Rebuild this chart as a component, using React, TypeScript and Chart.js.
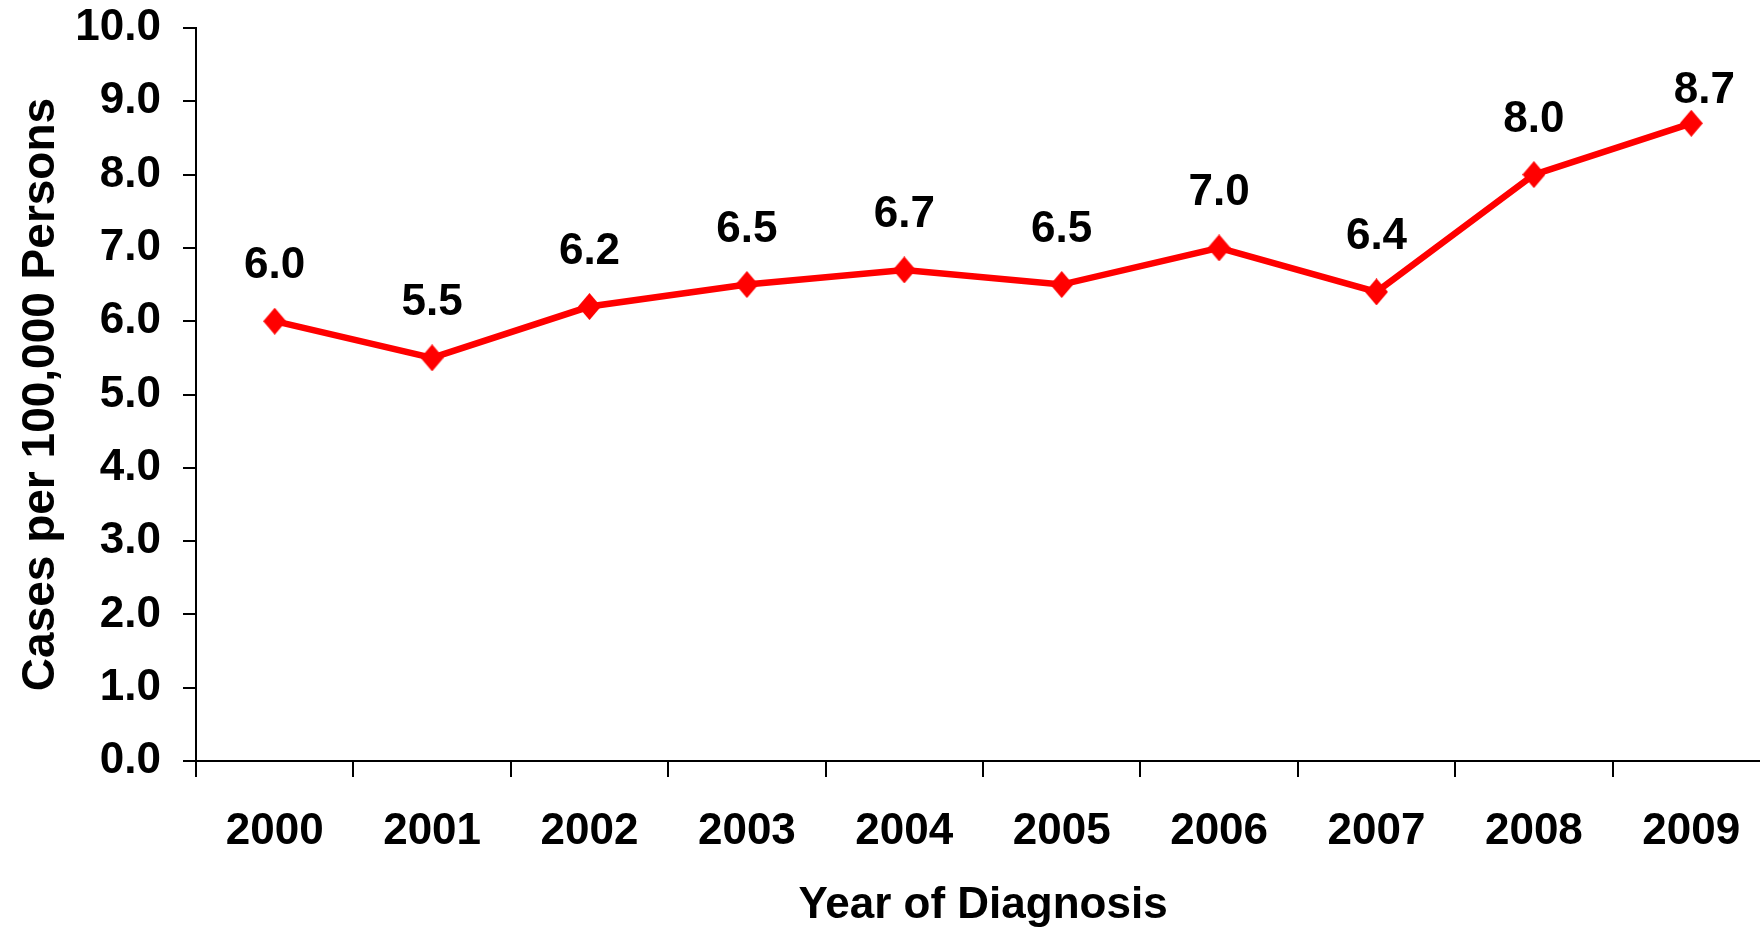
import React, { useEffect, useRef } from "react";
import { Chart, registerables } from "chart.js";

Chart.register(...registerables);

const years = ["2000", "2001", "2002", "2003", "2004", "2005", "2006", "2007", "2008", "2009"];
const rates = [6.0, 5.5, 6.2, 6.5, 6.7, 6.5, 7.0, 6.4, 8.0, 8.7];
const yMin = 0;
const yMax = 10;
const yStep = 1;
const xTitle = "Year of Diagnosis";
const yTitle = "Cases per 100,000 Persons";

const FONT = "'Liberation Sans', Arial, Helvetica, sans-serif";
const RED = "#ff0000";

function makeDiamond(w: number, h: number) {
  const c = document.createElement("canvas");
  c.width = w;
  c.height = h;
  const g = c.getContext("2d")!;
  g.fillStyle = RED;
  g.beginPath();
  g.moveTo(w / 2, 0);
  g.lineTo(w, h / 2);
  g.lineTo(w / 2, h);
  g.lineTo(0, h / 2);
  g.closePath();
  g.fill();
  return c;
}

const dataLabels = {
  id: "dataLabels",
  afterDatasetsDraw(chart: any) {
    const ctx = chart.ctx;
    const meta = chart.getDatasetMeta(0);
    ctx.save();
    ctx.font = `bold 44px ${FONT}`;
    ctx.fillStyle = "#000";
    ctx.textAlign = "center";
    ctx.textBaseline = "middle";
    const n = meta.data.length;
    meta.data.forEach((pt: any, i: number) => {
      const v = chart.data.datasets[0].data[i] as number;
      let x = pt.x;
      let y = pt.y - 55;
      if (i === n - 1) {
        x = pt.x + 13;
        y = pt.y - 32;
      }
      ctx.fillText(v.toFixed(1), x, y);
    });
    ctx.restore();
  },
};

export default function App() {
  const ref = useRef<HTMLCanvasElement | null>(null);

  useEffect(() => {
    if (!ref.current) return;
    const diamond = makeDiamond(23, 27);
    const chart = new Chart(ref.current, {
      type: "line",
      data: {
        labels: years,
        datasets: [
          {
            data: rates,
            borderColor: RED,
            backgroundColor: RED,
            borderWidth: 6.5,
            pointStyle: diamond as any,
            pointRadius: 1,
            pointHoverRadius: 1,
            pointBorderWidth: 0,
            tension: 0,
            fill: false,
            clip: false as any,
          },
        ],
      },
      options: {
        responsive: false,
        animation: false,
        devicePixelRatio: 1,
        layout: { padding: { top: 28, right: 0, left: 0, bottom: 0 } },
        plugins: {
          legend: { display: false },
          tooltip: { enabled: false },
          title: { display: false },
        },
        scales: {
          x: {
            type: "category",
            offset: true,
            afterFit: (s: any) => {
              s.height = 167;
              s.paddingLeft = 0;
              s.paddingRight = 0;
            },
            grid: {
              offset: true,
              drawOnChartArea: false,
              drawTicks: true,
              tickLength: 16,
              color: "#000",
              lineWidth: 2,
            },
            border: { display: true, color: "#000", width: 2 },
            ticks: {
              color: "#000",
              padding: 28,
              maxRotation: 0,
              autoSkip: false,
              font: { family: FONT, size: 44, weight: "bold" },
            },
            title: {
              display: true,
              text: xTitle,
              color: "#000",
              padding: { top: 0, bottom: 0 },
              font: { family: FONT, size: 44, weight: "bold", lineHeight: 1.0 },
            },
          },
          y: {
            min: yMin,
            max: yMax,
            afterFit: (s: any) => {
              s.width = 196;
              s.paddingTop = 0;
              s.paddingBottom = 0;
            },
            grid: {
              drawOnChartArea: false,
              drawTicks: true,
              tickLength: 13,
              color: "#000",
              lineWidth: 2,
            },
            border: { display: true, color: "#000", width: 2 },
            ticks: {
              stepSize: yStep,
              color: "#000",
              padding: 22,
              font: { family: FONT, size: 44, weight: "bold" },
              callback: (v: any) => Number(v).toFixed(1),
            },
            title: {
              display: true,
              text: yTitle,
              color: "#000",
              padding: { top: 18, bottom: 0 },
              font: { family: FONT, size: 46, weight: "bold", lineHeight: 1.0 },
            },
          },
        },
      },
      plugins: [dataLabels],
    });
    return () => chart.destroy();
  }, []);

  return (
    <div
      style={{
        position: "absolute",
        left: 0,
        top: 0,
        width: 1760,
        height: 928,
        overflow: "hidden",
        background: "#fff",
      }}
    >
      <canvas ref={ref} width={1771} height={928} style={{ display: "block" }} />
    </div>
  );
}
